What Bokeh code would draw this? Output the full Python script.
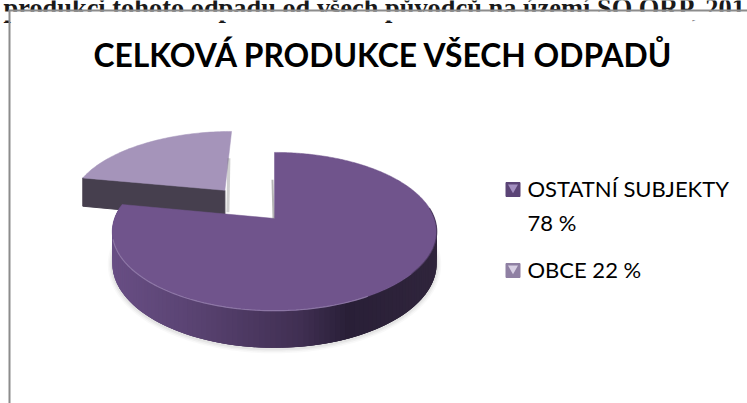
import numpy as np
from bokeh.plotting import figure
from bokeh.models import Range1d
from bokeh.core.properties import value
from bokeh.embed import file_html
from bokeh.resources import INLINE

categories = ["OSTATNÍ SUBJEKTY", "OBCE"]
shares = [78, 22]
legend_lines = ["OSTATNÍ SUBJEKTY", "78 %", "OBCE 22 %"]
title_text = "CELKOVÁ PRODUKCE VŠECH ODPADŮ"
cut_text = "produkci tohoto odpadu od všech původců na území SO ORP, 201"

W, H = 747, 403
CX, CY, RX, RY, K, DEPTH = 274, 218, 160, 77, 0.165, 31
EXPLODE_U, EXPLODE_V = -0.33, 0.39


def project(u, v):
    w = 1 / (1 + K * v)
    return CX + RX * u * w, CY - RY * v * w, w


def arc(start, stop, du=0.0, dv=0.0, n=180):
    t = np.radians(np.linspace(start, stop, n))
    return project(np.sin(t) + du, np.cos(t) + dv)


def mix(stops, x):
    xs = [s[0] for s in stops]
    c = [np.interp(x, xs, [s[1][i] for s in stops]) for i in range(3)]
    return "#%02x%02x%02x" % tuple(int(round(a)) for a in c)


p = figure(width=W, height=H, output_backend="svg", toolbar_location=None,
           x_range=Range1d(0, W), y_range=Range1d(H, 0), min_border=0)
p.axis.visible = False
p.grid.visible = False
p.outline_line_color = None
p.styles = {"position": "absolute", "left": "0px", "top": "0px"}

# page remnants: a line of body text cut off by the chart's frame
p.text([3], [7], text=[cut_text], text_font=value("Liberation Serif"), text_font_style="bold",
       text_font_size="26.4px", text_color="#1a1a1a", text_baseline="alphabetic")
p.quad(left=[0], right=[W], top=[11], bottom=[20], fill_color="#ffffff", line_color=None)
p.line([9, 9], [10, H], line_color="#8c8c8c", line_width=2)
p.line([8, W], [10, 10], line_color="#8c8c8c", line_width=2)

# exploded slice (22 %)
angle = 360 * shares[0] / sum(shares)
ax, ay, aw = project(EXPLODE_U, EXPLODE_V)
sx, sy, sw = arc(angle, 360, EXPLODE_U, EXPLODE_V, 60)
lx, ly, lw = sx[0], sy[0], sw[0]
p.patch([lx, ax, ax, lx], [ly, ay, ay + DEPTH * aw, ly + DEPTH * lw], fill_color="#463f4e", line_color="#463f4e")
p.patch(list(sx) + [ax], list(sy) + [ay], fill_color="#a594ba", line_color="#a594ba", line_width=0.5)
p.line([ax + 3, ax + 4], [ay + 22, ay - 32], line_color="#777777", line_alpha=0.35, line_width=3)

# main slice (78 %) - wall
t0 = 82
mx, my, mw = arc(t0, angle - 2, n=120)
bx, by = mx, my + DEPTH * mw
for lwid, la in ((9, 0.035), (6, 0.05), (3, 0.08)):
    p.line(bx, by + 1, line_color="#555555", line_alpha=la, line_width=lwid)
stops = [(113, (104, 78, 132)), (200, (88, 66, 112)), (300, (64, 47, 82)), (347, (41, 31, 55)), (440, (48, 37, 60))]
qx, qy, qc = [], [], []
for i in range(len(mx) - 1):
    j = min(i + 3, len(mx) - 1)
    qx.append([mx[i], mx[j], bx[j], bx[i]])
    qy.append([my[i], my[j], by[j], by[i]])
    qc.append(mix(stops, (mx[i] + mx[i + 1]) / 2))
p.patches(qx, qy, fill_color=qc, line_color=None)

# main slice - top
tx, ty, tw = arc(0, angle, n=360)
ox, oy, _ = project(0.0, 0.0)
p.patch(list(tx) + [ox], list(ty) + [oy], fill_color="#70548c", line_color="#70548c", line_width=0.5)
hx, hy, _ = arc(150, 255, n=90)
p.line(hx, hy, line_color="#9580ad", line_width=1.2, line_alpha=0.8)
dx, dy, _ = arc(82, 130, n=50)
p.line(dx, dy, line_color="#3d2e4e", line_width=1.2, line_alpha=0.6)
rx, ry, _ = project(0.0, 0.55)
p.line([ox - 1, rx - 2], [oy, ry], line_color="#444444", line_alpha=0.4, line_width=2)

# title and legend
p.text([383], [54], text=[title_text], text_font=value("Lato"), text_font_style="bold",
       text_font_size="31.8px", text_color="#000000", text_align="center", text_baseline="middle")
sq_y = [189, 270]
sq_c = ["#5b4476", "#8f80a3"]
sq_l = ["#a38fc0", "#d8d0e4"]
p.scatter([512.5, 512.5], sq_y, marker="square", size=14, fill_color=sq_c, line_color=sq_c)
p.scatter([512.5, 512.5], [y - 2 for y in sq_y], marker="inverted_triangle", size=10, fill_color=sq_l, line_color=None)
p.text([527, 527, 527], [188, 222, 269], text=legend_lines, text_font=value("Lato"), text_font_size="22px",
       text_color="#000000", text_baseline="middle")

open("out.html", "w").write(file_html(p, INLINE))
